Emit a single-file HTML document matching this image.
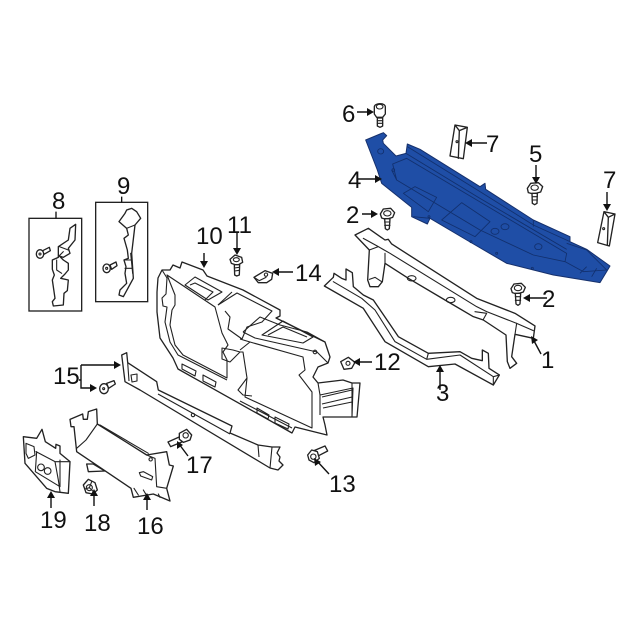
<!DOCTYPE html>
<html><head><meta charset="utf-8"><style>
html,body{margin:0;padding:0;background:#fff}
svg{display:block}
text{font-family:"Liberation Sans",sans-serif;font-size:24px;fill:#111}
.l{fill:#fff;stroke:#222;stroke-width:4;stroke-linejoin:round;stroke-linecap:round}
.n{fill:none;stroke:#222;stroke-width:3.3;stroke-linejoin:round;stroke-linecap:round}
.a{fill:none;stroke:#111;stroke-width:1.4}
.h{fill:#111;stroke:none}
.b{fill:#1f4ea6;stroke:#16306b;stroke-width:3;stroke-linejoin:round}
.bl{fill:none;stroke:#12306e;stroke-width:2.6;stroke-linejoin:round}
.s{fill:#fff;stroke:#222;stroke-width:1.3;stroke-linejoin:round}
.sn{fill:none;stroke:#222;stroke-width:1.1;stroke-linejoin:round}
</style></head><body>
<svg width="640" height="640" viewBox="0 0 640 640" xmlns="http://www.w3.org/2000/svg">
<rect width="640" height="640" fill="#fff"/>

<!-- upper right group, zoom coordinates -->
<g transform="translate(320,90) scale(.33333)">
<!-- blue shield -->
<path class="b" d="M137 150L190 128 200 137 188 150 190 160 228 198 258 190 262 162 300 178 480 290 495 280 497 298 640 390 750 440 750 455 800 478 870 528 860 545 840 578 700 555 560 520 440 450 330 385 322 402 275 380 275 352 185 280 172 240Z"/>
<path class="bl" d="M262 170L480 305 640 405 750 455M258 190L480 325 740 478M218 222L260 205 740 490 735 515 640 495 480 420 230 270ZM230 270L215 240M250 310L285 290 350 322 325 365ZM365 390L425 338 510 395 465 440ZM735 515L790 545 860 540 800 480 740 460M800 530L780 550M640 390L640 410M815 560L830 535M280 380L330 385"/>
<ellipse class="bl" cx="525" cy="424" rx="12" ry="9"/><ellipse class="bl" cx="555" cy="410" rx="12" ry="9"/><ellipse class="bl" cx="655" cy="470" rx="11" ry="9"/><ellipse class="bl" cx="182" cy="184" rx="9" ry="8"/>
<circle class="bl" cx="220" cy="240" r="4"/><circle class="bl" cx="327" cy="380" r="3"/><circle class="bl" cx="453" cy="455" r="3"/><circle class="bl" cx="530" cy="490" r="3"/><circle class="bl" cx="637" cy="535" r="3"/>

<!-- 7 blocks -->
<path class="l" d="M405 105L442 112 430 206 390 198ZM405 105L418 122 442 112M418 122L415 205"/><circle class="n" cx="411" cy="155" r="3"/>
<path class="l" d="M852 365L885 372 868 468 833 458ZM852 365L865 382 885 372M865 382L862 466"/><circle class="n" cx="851" cy="416" r="3"/>

<!-- 3 channel -->
<path class="l" d="M13 588L40 562 42 550 65 565 78 570 78 537 97 548 100 590 130 615 160 630 235 740 325 790 420 785 455 805 487 812 487 780 505 790 507 835 538 855 520 885 405 822 325 830 195 755 130 655Z"/>
<path class="n" d="M40 575L125 625 165 660 225 755 320 808 420 795 520 860 520 885M520 860L538 855M325 790L320 808"/>

<!-- 1 bracket -->
<path class="l" d="M105 435L145 415 195 450 205 448 215 462 470 625 585 670 645 708 640 745 585 733 575 800 590 820 570 835 562 815 558 735 490 690 460 680 375 630 265 565 195 520 187 575 175 590 150 590 143 570 148 480Z"/>
<path class="n" d="M130 445L175 470 210 490 470 650 500 665 590 700 640 722M148 480L175 470M465 665L500 670 490 688M148 568L165 562 185 575M195 520L195 490M585 733L590 700"/>
<ellipse class="n" cx="275" cy="565" rx="13" ry="8"/><ellipse class="n" cx="392" cy="630" rx="13" ry="8"/>
</g>

<!-- 15 strip (real coords) -->
<path class="s" d="M121.7 355L126.7 352.7 127.7 362.7 156.7 381.7 158.3 390 232 426 230 433 258 445 272 447 280 447 277 453 280 457 279 461 283 465 278 470 270 468 140 390 125 381.7Z"/>
<path class="sn" d="M127.7 363L129 381M158 394L230 434M258 445L259 457M272 447L270 468M131 375L137 374 137 381 132 382Z"/>
<circle class="sn" cx="193" cy="415" r="1.7"/>

<!-- main frame, real coords -->
<path class="s" d="M157 292L158 278 162 270 170 270 173 265 180 268 182 262 203 270 207 276 243 290 280 310 280 316 276 318 325 342 330 357 328 363 318 367 313 377 318 383 343 380 352 383 360 383 357 417 323 417 325 425 327 435 295 427 292 433 178 369 173 358 160 338 157 312Z"/>
<path class="sn" d="M167 275L215 307 222 333 228 345 223 352 227 360 227 378 183 355 175 345 170 325 172 310 175 305 175 295 171 285Z"/>
<path class="sn" d="M162 270L167 278 166 294 162 298 163 306 167 307 165 322 170 342 178 355 227 380M185 285L195 277 222 292 208 300ZM190 285L195 283 213 292 205 300M218 305L232 292"/>
<!-- center -->
<path class="sn" d="M218 305L237 293 272 311 262 322 247 327 242 339 228 329 230 317 225 311M222 348L233 350 240 352 230 362 222 359ZM240 350L250 342 240 339"/>
<!-- right window -->
<path class="sn" d="M243 332L260 317 280 325 307 332 325 342M243 332L255 338 317 352 328 363M250 342L303 357 305 370 299 375 312 392 312 428 245 397 247 378 243 352 240 352M247 378L238 390 243 395 252 396M262 335L283 321 313 337 303 343ZM268 335L283 327 307 337"/>
<circle class="sn" cx="315" cy="352" r="1.8"/>
<!-- pockets -->
<path class="sn" d="M182 364L196 371 195 376 182 369ZM203 375L216 382 215 387 203 381ZM257 408L269 415 268 419 257 413ZM275 417L289 424 288 429 275 423ZM240 401L292 428"/>
<!-- right vent -->
<path class="sn" d="M318 383L320 395 320 415M320 395L353 388 352 417M322 397L352 390M322 404L352 397M323 408L352 402M352 383L352 417"/>

<g transform="translate(140,240) scale(.33333)">
<!-- 14 clip -->
<path class="l" d="M342 112L375 92 398 100 395 118 380 128 355 128Z"/><circle class="n" cx="378" cy="104" r="5"/><path class="n" d="M342 112L358 122 378 112"/>
<!-- 12 clip -->
<path class="l" d="M602 365L625 352 645 367 635 385 612 388Z"/><circle class="n" cx="624" cy="370" r="6"/>
<!-- 11 bolt -->
<path class="l" d="M270 58L285 45 305 52 308 67 292 76 274 70Z"/><path class="l" d="M283 74H299L298 105 290 108 284 105Z"/><ellipse class="n" cx="289" cy="59" rx="9" ry="6"/>
<path class="n" d="M283 84L298 82M284 93L298 91"/>
<!-- 17 bolt -->
<path class="l" d="M84 606L120 590 128 605 92 620Z"/><path class="l" d="M118 580L140 568 155 585 150 600 130 607 118 598Z"/><circle class="n" cx="137" cy="586" r="8"/>
<!-- 13 bolt -->
<path class="l" d="M522 632L555 618 563 633 530 650Z"/><path class="l" d="M503 645L515 630 532 635 538 655 522 668 507 660Z"/><circle class="n" cx="520" cy="650" r="8"/>
</g>

<!-- lower left, zoom 3 -->
<g transform="translate(10,340) scale(.33333)">
<!-- 15 screw -->
<path class="l" d="M290 130L312 122 316 132 296 145Z"/><ellipse class="l" cx="282" cy="146" rx="13" ry="15"/><circle class="n" cx="281" cy="146" r="3"/>
<!-- 16 feet -->
<path class="l" d="M230 372L250 372 285 393 235 395Z"/>
<!-- 16 panel -->
<path class="l" d="M180 238L218 222 220 238 232 238 235 215 260 207 262 252 410 345 470 335 478 375 490 378 470 445 480 483 430 462 370 472 363 445 200 335 192 260 183 260Z"/>
<path class="n" d="M262 252L228 300 200 325M410 345L435 355 440 440 470 445M270 255L415 340M372 445L385 465M400 450L412 470M445 462L450 472"/>
<path class="n" d="M388 398L400 395 428 410 425 420 392 408Z"/><circle class="n" cx="422" cy="358" r="5"/>
<!-- 19 bracket -->
<path class="l" d="M40 290L80 295 96 268 106 305 137 325 138 313 150 318 150 340 180 365 175 460 135 455 110 445 45 370Z"/>
<path class="n" d="M48 310L72 320 75 345 55 355 48 340ZM78 335L135 365 145 420 150 455M80 335L76 395 150 440M135 365L180 365M150 360L150 440"/>
<circle class="n" cx="93" cy="382" r="10"/><circle class="n" cx="113" cy="393" r="10"/>
<!-- 18 nut -->
<path class="l" d="M220 435L235 418 255 428 262 450 248 462 228 458Z"/><circle class="n" cx="238" cy="443" r="9"/><path class="n" d="M225 447L238 443 245 425M238 443L250 455"/>
</g>

<!-- boxes 8, 9 -->
<g transform="translate(20,170) scale(.33333)">
<rect x="27" y="145" width="158" height="278" fill="none" stroke="#222" stroke-width="4"/>
<rect x="227" y="97" width="156" height="298" fill="none" stroke="#222" stroke-width="4"/>
<path class="a" style="stroke-width:4" d="M108 125V145M305 80V97"/>
<path class="l" d="M150 175L167 163 165 210 145 235 150 250 130 262 118 258 130 270 145 280 145 300 135 312 122 325 145 330 142 362 132 370 130 405 100 408 97 395 105 385 97 330 103 315 97 298 97 270 115 262 115 230 145 210Z"/>
<path class="n" d="M118 230L145 240M115 260L130 245M110 270L110 300 125 310"/>
<path class="l" d="M297 155L315 130 320 120 335 115 350 125 362 145 345 165 335 250 340 325 310 380 297 375 300 360 320 340 315 310 318 290 312 270 325 265 322 240 312 205 325 195 320 175Z"/>
<path class="n" d="M320 175L345 165M332 250L338 310M315 270H335M315 295H335"/>
<path class="l" d="M68 242L88 232 91 242 72 253Z"/><ellipse class="l" cx="60" cy="252" rx="11" ry="13"/><circle class="n" cx="60" cy="252" r="3"/>
<path class="l" d="M270 285L288 276 291 287 275 298Z"/><ellipse class="l" cx="260" cy="295" rx="11" ry="13"/><circle class="n" cx="260" cy="295" r="3"/>
</g>

<!-- bolts upper -->
<g transform="translate(320,90) scale(.33333)">
<!-- 6 -->
<path class="l" d="M163 50C165 38 195 38 196 50L196 72 188 82 170 82 163 72Z"/><ellipse class="n" cx="179" cy="50" rx="10" ry="7"/>
<path class="l" d="M172 84H188V108L180 112 172 108Z"/><path class="n" d="M172 92H188M172 100H188"/>
<!-- 5 -->
<path class="l" d="M622 295L632 280 655 278 668 290 662 306 640 312 625 308Z"/><ellipse class="n" cx="644" cy="293" rx="11" ry="8"/>
<path class="l" d="M636 310H652L651 340 644 344 637 340Z"/><path class="n" d="M636 320H652M636 330H652"/>
<!-- 2 left -->
<path class="l" d="M181 372L190 357 212 355 224 368 218 382 198 388 185 384Z"/><ellipse class="n" cx="202" cy="370" rx="11" ry="8"/>
<path class="l" d="M194 386H210L208 416 202 420 196 416Z"/><path class="n" d="M194 396H210M194 406H210"/>
<!-- 2 right -->
<path class="l" d="M573 596L582 582 604 580 616 592 610 606 590 612 577 608Z"/><ellipse class="n" cx="594" cy="594" rx="11" ry="8"/>
<path class="l" d="M586 610H602L600 642 594 646 588 642Z"/><path class="n" d="M586 620H602M586 631H602"/>
</g>

<!-- arrows -->
<g>
<path class="a" d="M357 112H369M487 143H468M536 165V181M607 192V208M357 179H379M362 214H375M547 298H526M541 354L533 339M440 390V368M372 362H356M293 272H274M204 253V265M237 233V252M188 456L179 444M329 474L317 461"/>
<path class="h" d="M374 112l-7-4v8zM465 143l7-4v8zM536 184l-4-7h8zM607 211l-4-7h8zM382 179l-7-4v8zM378 214l-7-4v8zM523 298l7-4v8zM531 336l1 8 6-4zM440 365l-4 7h8zM353 362l7-4v8zM272 272l7-4v8zM204 268l-4-7h8zM237 255l-4-7h8zM177 441l0 8 6-4zM314 458l1 8 6-4z"/>
<path class="a" d="M81 365V388H94M81 365H118M81 380H79"/>
<path class="h" d="M121 365l-7-4v8zM97 388l-7-4v8z"/>
<path class="a" d="M51 508V493M94 506V492M147 510V496"/>
<path class="h" d="M51 491l-4 7h8zM94 489l-4 7h8zM147 493l-4 7h8z"/>
</g>

<text x="342" y="122">6</text>
<text x="486" y="152">7</text>
<text x="529" y="162">5</text>
<text x="603" y="188">7</text>
<text x="348" y="188">4</text>
<text x="346" y="223">2</text>
<text x="542" y="307">2</text>
<text x="541" y="368">1</text>
<text x="436" y="401">3</text>
<text x="374" y="370">12</text>
<text x="295" y="281">14</text>
<text x="196" y="244">10</text>
<text x="227" y="233">11</text>
<text x="52" y="209">8</text>
<text x="117" y="194">9</text>
<text x="53" y="384">15</text>
<text x="186" y="473">17</text>
<text x="40" y="528">19</text>
<text x="84" y="531">18</text>
<text x="137" y="534">16</text>
<text x="329" y="492">13</text>
</svg>
</body></html>
